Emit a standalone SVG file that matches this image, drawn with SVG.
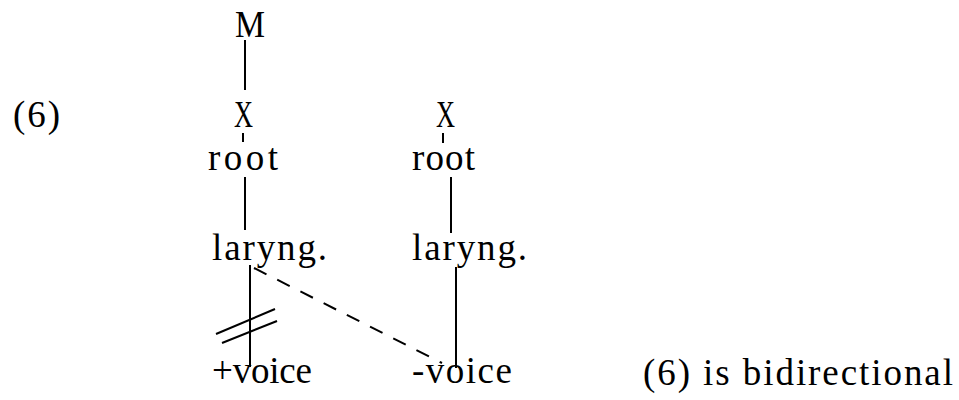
<svg xmlns="http://www.w3.org/2000/svg" width="959" height="400" viewBox="0 0 959 400">
<style>
text{font-family:"Liberation Serif","Times New Roman",serif;font-size:37px;fill:#000}
.l{stroke:#000;stroke-width:2;fill:none}
.d{stroke:#000;stroke-width:2;fill:none;stroke-dasharray:14,12}
</style>
<rect width="959" height="400" fill="#fff"/>
<g id="label6"><text x="13" y="127" textLength="47" lengthAdjust="spacing">(6)</text></g>
<g id="M"><text x="235" y="37" textLength="30" lengthAdjust="spacingAndGlyphs">M</text></g>
<g id="X1"><text x="234" y="127" textLength="19" lengthAdjust="spacingAndGlyphs">X</text></g>
<g id="root1"><text x="208" y="170" textLength="70" lengthAdjust="spacing">root</text></g>
<g id="laryng1"><text x="212" y="260" textLength="115" lengthAdjust="spacing">laryng.</text></g>
<g id="plusvoice"><text x="212" y="383" textLength="100" lengthAdjust="spacing">+voice</text></g>
<g id="X2"><text x="436" y="127" textLength="19" lengthAdjust="spacingAndGlyphs">X</text></g>
<g id="root2"><text x="412" y="170" textLength="63" lengthAdjust="spacing">root</text></g>
<g id="laryng2"><text x="412" y="260" textLength="115" lengthAdjust="spacing">laryng.</text></g>
<g id="minusvoice"><text x="412" y="383" textLength="100" lengthAdjust="spacing">-voice</text></g>
<g id="caption"><text x="643" y="385" textLength="310" lengthAdjust="spacing">(6) is bidirectional</text></g>
<g id="connectors">
<line class="l" x1="245" y1="40" x2="245" y2="90"/>
<line class="l" x1="243" y1="133" x2="243" y2="142"/>
<line class="l" x1="245" y1="177" x2="245" y2="230"/>
<line class="l" x1="250" y1="265" x2="250" y2="367"/>
<line class="l" x1="216" y1="334" x2="275" y2="309"/>
<line class="l" x1="222" y1="343" x2="277" y2="321"/>
<line class="d" x1="254" y1="268" x2="442" y2="363"/>
<line class="l" x1="443" y1="133" x2="443" y2="143"/>
<line class="l" x1="451" y1="177" x2="451" y2="233"/>
<line class="l" x1="456" y1="267" x2="456" y2="368"/>
</g>
</svg>
